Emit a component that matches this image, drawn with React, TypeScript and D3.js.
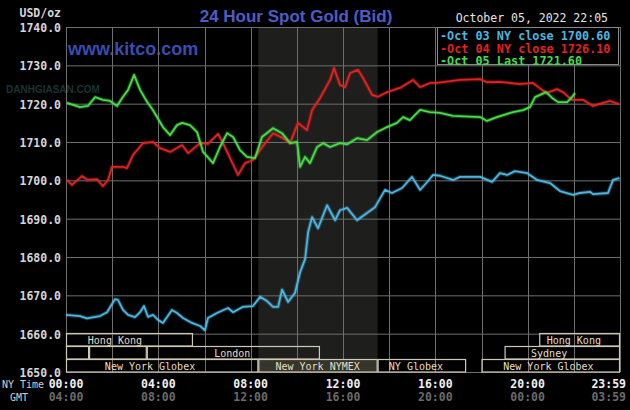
import React, { useEffect } from "react";
import * as d3 from "d3";

const W = 630;
const H = 410;

// [hour (NY time), price]
const oct03Prices: [number, number][] = [
  [0.0, 1664.9], [0.61, 1664.6], [0.91, 1664.0], [1.47, 1664.6], [1.78, 1665.6], [2.12, 1669.0],
  [2.25, 1668.8], [2.47, 1666.2], [2.69, 1664.9], [2.99, 1664.3], [3.21, 1665.6], [3.38, 1667.2],
  [3.55, 1664.4], [3.77, 1664.9], [3.99, 1663.6], [4.2, 1662.8], [4.59, 1666.2], [4.81, 1665.4],
  [5.07, 1664.1], [5.46, 1662.8], [5.81, 1662.0], [6.02, 1660.9], [6.15, 1664.1], [6.54, 1665.4],
  [7.02, 1666.7], [7.24, 1665.6], [7.67, 1667.0], [8.1, 1667.2], [8.41, 1669.6], [8.71, 1668.5],
  [8.97, 1667.0], [9.19, 1667.0], [9.36, 1671.5], [9.62, 1668.3], [9.92, 1670.6], [10.14, 1676.0],
  [10.36, 1679.5], [10.49, 1686.5], [10.66, 1690.4], [10.92, 1687.5], [11.31, 1693.5], [11.66, 1689.6],
  [11.87, 1692.2], [12.18, 1692.8], [12.61, 1689.6], [13.04, 1691.5], [13.39, 1693.0], [13.82, 1697.5],
  [14.12, 1696.7], [14.56, 1698.0], [14.99, 1700.9], [15.34, 1697.5], [15.64, 1699.5], [15.9, 1701.4],
  [16.2, 1701.2], [16.77, 1700.1], [17.07, 1700.9], [17.94, 1700.9], [18.46, 1699.6], [18.8, 1701.9],
  [19.11, 1701.4], [19.45, 1702.4], [19.97, 1701.9], [20.41, 1700.1], [20.97, 1699.3], [21.4, 1697.2],
  [21.97, 1696.2], [22.27, 1696.7], [22.7, 1697.0], [22.83, 1696.4], [23.48, 1696.7], [23.7, 1700.1],
  [23.98, 1700.6],
];

const oct04Prices: [number, number][] = [
  [0.04, 1700.1], [0.26, 1698.8], [0.69, 1701.1], [0.95, 1700.1], [1.34, 1700.3], [1.6, 1698.5],
  [1.82, 1700.1], [1.99, 1703.5], [2.47, 1703.5], [2.64, 1703.2], [2.9, 1706.6], [3.34, 1709.7],
  [3.77, 1710.0], [4.07, 1708.4], [4.51, 1707.4], [5.03, 1709.2], [5.29, 1707.1], [5.81, 1709.7],
  [6.15, 1709.5], [6.59, 1712.1], [6.8, 1709.7], [7.11, 1705.8], [7.45, 1701.4], [7.76, 1704.5],
  [8.1, 1705.3], [8.54, 1709.0], [8.97, 1712.3], [9.4, 1711.0], [9.71, 1709.7], [10.05, 1715.0],
  [10.44, 1713.1], [10.66, 1718.3], [11.01, 1721.5], [11.44, 1726.2], [11.61, 1729.3], [11.87, 1724.9],
  [12.09, 1724.3], [12.31, 1728.0], [12.65, 1728.8], [12.87, 1726.7], [13.26, 1722.3], [13.52, 1721.8],
  [13.91, 1723.0], [14.47, 1724.1], [15.03, 1726.2], [15.34, 1724.3], [15.77, 1725.4], [16.07, 1725.4],
  [17.07, 1726.2], [17.94, 1726.4], [18.24, 1725.6], [18.8, 1725.7], [19.67, 1725.1], [20.23, 1725.4],
  [20.62, 1723.6], [20.84, 1722.8], [21.27, 1723.8], [21.53, 1723.0], [21.92, 1721.0], [22.4, 1721.0],
  [22.83, 1719.4], [23.27, 1720.2], [23.57, 1720.7], [23.96, 1719.9],
];

const oct05Prices: [number, number][] = [
  [0.04, 1720.2], [0.61, 1719.1], [0.95, 1719.4], [1.26, 1721.7], [1.6, 1721.0], [1.91, 1720.7],
  [2.21, 1719.4], [2.47, 1721.8], [2.69, 1723.6], [2.95, 1727.5], [3.21, 1723.6], [3.51, 1720.5],
  [3.77, 1718.3], [4.2, 1713.9], [4.51, 1711.8], [4.81, 1714.4], [5.03, 1715.0], [5.37, 1714.4],
  [5.68, 1712.6], [5.94, 1707.4], [6.37, 1704.5], [6.67, 1708.7], [6.98, 1712.3], [7.24, 1711.3],
  [7.54, 1707.9], [7.84, 1706.1], [8.19, 1705.8], [8.49, 1711.3], [8.97, 1713.6], [9.36, 1712.3],
  [9.71, 1709.7], [10.01, 1710.0], [10.14, 1703.5], [10.36, 1706.1], [10.57, 1704.5], [10.88, 1708.7],
  [11.14, 1709.7], [11.44, 1708.7], [11.87, 1709.7], [12.18, 1709.4], [12.61, 1711.0], [13.04, 1710.5],
  [13.48, 1712.6], [13.91, 1713.9], [14.34, 1715.0], [14.6, 1716.5], [14.9, 1715.7], [15.34, 1718.4],
  [15.77, 1717.8], [16.2, 1717.6], [16.77, 1716.8], [17.94, 1716.5], [18.24, 1715.5], [18.67, 1716.5],
  [19.37, 1717.8], [19.8, 1718.3], [20.1, 1719.1], [20.32, 1721.7], [20.54, 1722.3], [20.8, 1723.0],
  [21.06, 1721.5], [21.32, 1720.4], [21.71, 1720.4], [21.92, 1721.7], [22.05, 1722.8],
];

const legendLabels = ["Oct 03 NY close 1700.60", "Oct 04 NY close 1726.10", "Oct 05 Last 1721.60"];
const yTicks = [1650, 1660, 1670, 1680, 1690, 1700, 1710, 1720, 1730, 1740];
const nyTickHours = [0, 4, 8, 12, 16, 20, 23.983];
const nyTickLabels = ["00:00", "04:00", "08:00", "12:00", "16:00", "20:00", "23:59"];
const gmtTickLabels = ["04:00", "08:00", "12:00", "16:00", "20:00", "00:00", "03:59"];

// market sessions: [name, row, startHour, endHour, labelHour]
const markets: [string, number, number, number, number][] = [
  ["Hong Kong", 0, 0, 5.5, 2.12],
  ["Hong Kong", 0, 20.5, 24, 22.0],
  ["", 1, 0, 1.0, 0.5],
  ["", 1, 1.0, 3.5, 2.2],
  ["London", 1, 3.5, 11.0, 7.2],
  ["Sydney", 1, 19.0, 24, 20.93],
  ["New York Globex", 2, 0, 8.333, 3.64],
  ["New York NYMEX", 2, 8.333, 13.5, 10.9],
  ["NY Globex", 2, 13.5, 17.333, 15.16],
  ["New York Globex", 2, 18.0, 24, 20.9],
];
const nymexSession: [number, number] = [8.333, 13.5];

const seriesColors = ["#4cb6e0", "#e02222", "#48dc48"];
const mono = "'DejaVu Sans Mono', monospace";

export default function App() {
  useEffect(() => {
    document.body.style.margin = "0";
    document.body.style.background = "#000";
  }, []);

  const x = d3.scaleLinear().domain([0, 24]).range([66, 620]);
  const y = d3.scaleLinear().domain([1650, 1740]).range([372, 27]);
  const line = d3
    .line<[number, number]>()
    .x((d) => x(d[0]))
    .y((d) => y(d[1]))
    .curve(d3.curveLinear);

  const series = [oct03Prices, oct04Prices, oct05Prices];
  const rowTop = [333.5, 346.5, 359.5];
  const rowH = 12.5;
  const vHours = d3.range(0, 25, 2);

  return (
    <svg width={W} height={H} style={{ display: "block", position: "absolute", left: 0, top: 0, background: "#000" }}>
      <rect x={0} y={0} width={W} height={H} fill="#000" />
      {/* NYMEX shaded session */}
      <rect x={x(nymexSession[0])} y={y(1740)} width={x(nymexSession[1]) - x(nymexSession[0])} height={y(1650) - y(1740)} fill="#1e1e1c" />
      {/* watermarks */}
      <text x={6} y={93} fontFamily="'Liberation Sans', Arial, sans-serif" fontWeight="bold" fontSize={10} fill="#1d3a3c" opacity={0.9}>DANHGIASAN.COM</text>
      <text x={68} y={55} fontFamily="'Liberation Sans', Arial, sans-serif" fontWeight="bold" fontSize={18} fill="#3a4cb0">www.kitco.com</text>
      {/* grid */}
      {yTicks.map((t) => (
        <line key={"h" + t} x1={x(0)} x2={x(24)} y1={y(t) + 0.5} y2={y(t) + 0.5} stroke="#6e6e6e" strokeWidth={1} />
      ))}
      {vHours.map((h) => (
        <line key={"v" + h} x1={Math.round(x(h)) + 0.5} x2={Math.round(x(h)) + 0.5} y1={y(1740)} y2={y(1650)} stroke="#6e6e6e" strokeWidth={1} />
      ))}
      {/* market boxes */}
      {markets.map((m, i) => {
        const [name, row, s, e, lh] = m;
        const isNymex = name === "New York NYMEX";
        return (
          <g key={"m" + i}>
            <rect x={x(s) + 0.5} y={rowTop[row]} width={x(e) - x(s) - 1} height={rowH} fill={isNymex ? "#36352b" : "none"} stroke="#cfc9b4" strokeWidth={1.2} />
            {name && (
              <text x={x(lh)} y={rowTop[row] + rowH - 2.5} textAnchor="middle" fontFamily={mono} fontSize={10} fill="#e6dfc6">
                {name}
              </text>
            )}
          </g>
        );
      })}
      {/* series lines */}
      {series.map((s, i) => (
        <g key={"s" + i}>
          <path d={line(s) || ""} fill="none" stroke={seriesColors[i]} strokeWidth={4} strokeOpacity={0.3} strokeLinejoin="round" />
          <path d={line(s) || ""} fill="none" stroke={seriesColors[i]} strokeWidth={1.8} strokeLinejoin="round" />
        </g>
      ))}
      {/* y tick labels */}
      <text x={61} y={17} textAnchor="end" fontFamily={mono} fontWeight="bold" fontSize={11.5} fill="#d6d6d6">USD/oz</text>
      {yTicks.map((t) => (
        <text key={"yl" + t} x={61} y={y(t) + 5} textAnchor="end" fontFamily={mono} fontWeight="bold" fontSize={11.5} fill="#d6d6d6">
          {t.toFixed(1)}
        </text>
      ))}
      {/* x tick labels */}
      <text x={2} y={388} fontFamily={mono} fontSize={10} fill="#d0d0d0">NY Time</text>
      <text x={10} y={401} fontFamily={mono} fontSize={10} fill="#d0d0d0">GMT</text>
      {nyTickHours.map((h, i) => {
        const last = i === nyTickHours.length - 1;
        return (
          <g key={"xt" + i}>
            <text x={last ? 626 : x(h)} y={388} textAnchor={last ? "end" : "middle"} fontFamily={mono} fontWeight="bold" fontSize={11.5} fill="#f0f0f0">
              {nyTickLabels[i]}
            </text>
            <text x={last ? 626 : x(h)} y={401} textAnchor={last ? "end" : "middle"} fontFamily={mono} fontWeight="bold" fontSize={11.5} fill="#6a6a6a">
              {gmtTickLabels[i]}
            </text>
          </g>
        );
      })}
      {/* title */}
      <text x={296} y={22} textAnchor="middle" fontFamily="'Liberation Sans', Arial, sans-serif" fontWeight="bold" fontSize={17} fill="#4d5cc6">
        24 Hour Spot Gold (Bid)
      </text>
      <text x={608} y={22} textAnchor="end" fontFamily={mono} fontSize={11.5} fill="#e4e4e4">October 05, 2022 22:05</text>
      {/* legend */}
      <rect x={437.5} y={27.5} width={181} height={37} fill="#000" stroke="#8a8a8a" strokeWidth={1} />
      {legendLabels.map((l, i) => (
        <text key={"lg" + i} x={440} y={40 + i * 12.5} fontFamily={mono} fontWeight="bold" fontSize={11.8} fill={seriesColors[i]}>
          {"-" + l}
        </text>
      ))}
    </svg>
  );
}
